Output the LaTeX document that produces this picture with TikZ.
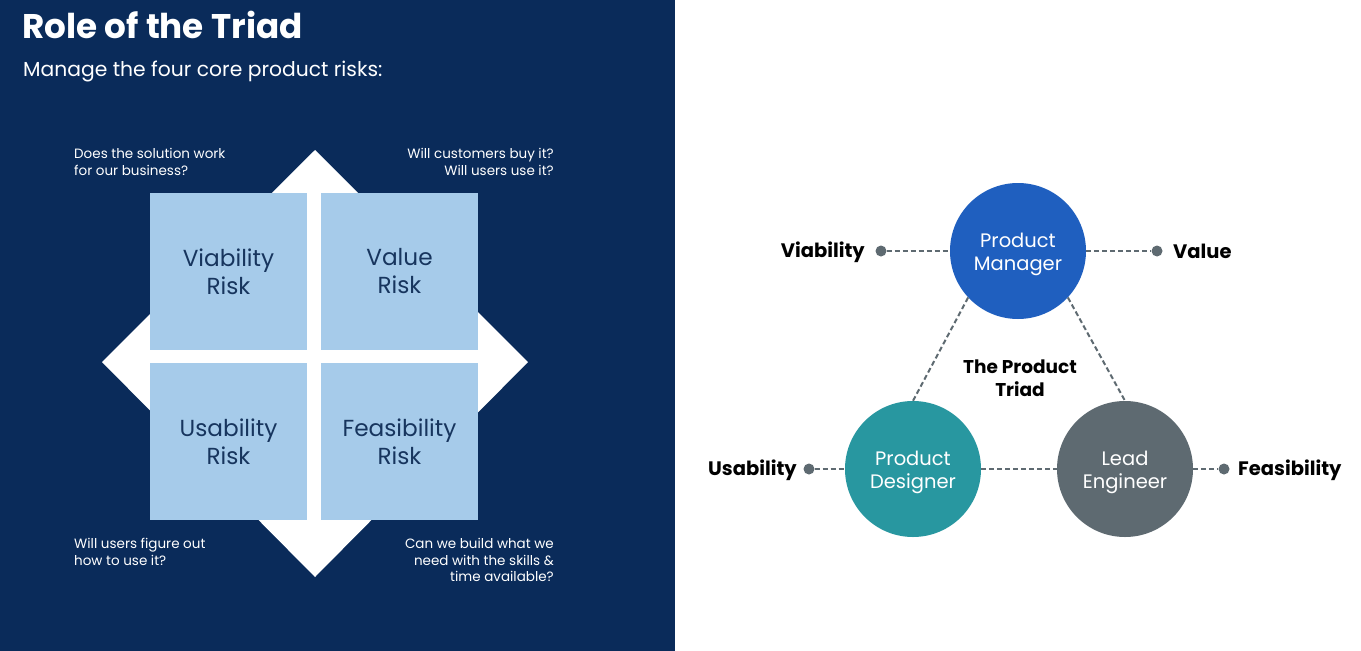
\documentclass[tikz,border=0pt]{standalone}
\usepackage{fontspec}
\setmainfont{Poppins}
\usetikzlibrary{calc}
\definecolor{navy}{HTML}{0A2B5A}
\definecolor{sqblue}{HTML}{A6CBEA}
\definecolor{sqtext}{HTML}{17355E}
\definecolor{pmblue}{HTML}{1F5FBF}
\definecolor{pdteal}{HTML}{2897A0}
\definecolor{legray}{HTML}{5E6A71}
\newcommand{\twolines}[2]{\raisebox{-3pt}[\height][\depth]{\begin{tabular}{@{}c@{}}#1\\#2\end{tabular}}}
\begin{document}
\begin{tikzpicture}[x=1pt,y=-1pt,
  riskbox/.style={fill=sqblue,minimum width=157pt,minimum height=157pt,inner sep=0pt,
    text=sqtext,font=\fontsize{23.2}{28}\selectfont,align=center},
  question/.style={text=white,font=\fontsize{13.5}{16.6}\selectfont,inner sep=0pt},
  role/.style={circle,minimum size=136pt,inner sep=0pt,text=white,
    font=\fontsize{19.5}{23}\selectfont},
  dotc/.style={circle,fill=legray,minimum size=11pt,inner sep=0pt},
  link/.style={draw=legray,line width=2pt,dash pattern=on 5pt off 3pt},
  risklabel/.style={font=\bfseries\fontsize{19.5}{23}\selectfont,inner sep=0pt,text=black}]
\useasboundingbox (0,0) rectangle (1361,651);
\fill[white] (0,0) rectangle (1361,651);
\fill[navy] (0,0) rectangle (675,651);
% title
\node[anchor=base west,inner sep=0pt,text=white,font=\bfseries\fontsize{34.2}{40}\selectfont] (title) at (22,38) {Role of the Triad};
\node[anchor=base west,inner sep=0pt,text=white,font=\fontsize{20.3}{24}\selectfont] (sub) at (23,76) {Manage the four core product risks:};
% diamond
\fill[white] (315,150) -- (528,362) -- (315,577) -- (102,362) -- cycle;
% squares
\node[riskbox] (via) at (228.5,271.5) {Viability\\Risk};
\node[riskbox] (val) at (399.5,271.5) {Value\\Risk};
\node[riskbox] (usa) at (228.5,441.5) {Usability\\Risk};
\node[riskbox] (fea) at (399.5,441.5) {Feasibility\\Risk};
% questions
\node[question,anchor=north west,align=left] (q1) at (74,148) {Does the solution work\\for our business?};
\node[question,anchor=north east,align=right] (q2) at (554,148) {Will customers buy it?\\Will users use it?};
\node[question,anchor=north west,align=left] (q3) at (74,538) {Will users figure out\\how to use it?};
\node[question,anchor=north east,align=right] (q4) at (554,538) {Can we build what we\\need with the skills \&\\time available?};
% triad
\node[role,fill=pmblue] (pm) at (1018,251) {\twolines{Product}{Manager}};
\node[role,fill=pdteal] (pd) at (913,469) {\twolines{Product}{Designer}};
\node[role,fill=legray] (le) at (1125,469) {\twolines{Lead}{Engineer}};
\node[font=\bfseries\fontsize{18.5}{23}\selectfont,align=center,inner sep=0pt] (tri) at (1020,378) {The Product\\Triad};
% dots
\node[dotc] (dvia) at (881,251) {};
\node[dotc] (dval) at (1157,251) {};
\node[dotc] (dusa) at (809,469) {};
\node[dotc] (dfea) at (1224,469) {};
\node[risklabel,anchor=east] (lvia) at (865,252) {Viability};
\node[risklabel,anchor=west] (lval) at (1173,251) {Value};
\node[risklabel,anchor=east] (lusa) at (797,470) {Usability};
\node[risklabel,anchor=west] (lfea) at (1238,470) {Feasibility};
% links
\draw[link] (dvia) -- (pm.west);
\draw[link] (pm.east) -- (dval);
\draw[link] (dusa) -- (pd.west);
\draw[link] (pd.east) -- (le.west);
\draw[link] (le.east) -- (dfea);
\draw[link] (pm.223) -- (pd.north);
\draw[link] (pm.317) -- (le.north);
\end{tikzpicture}
\end{document}
